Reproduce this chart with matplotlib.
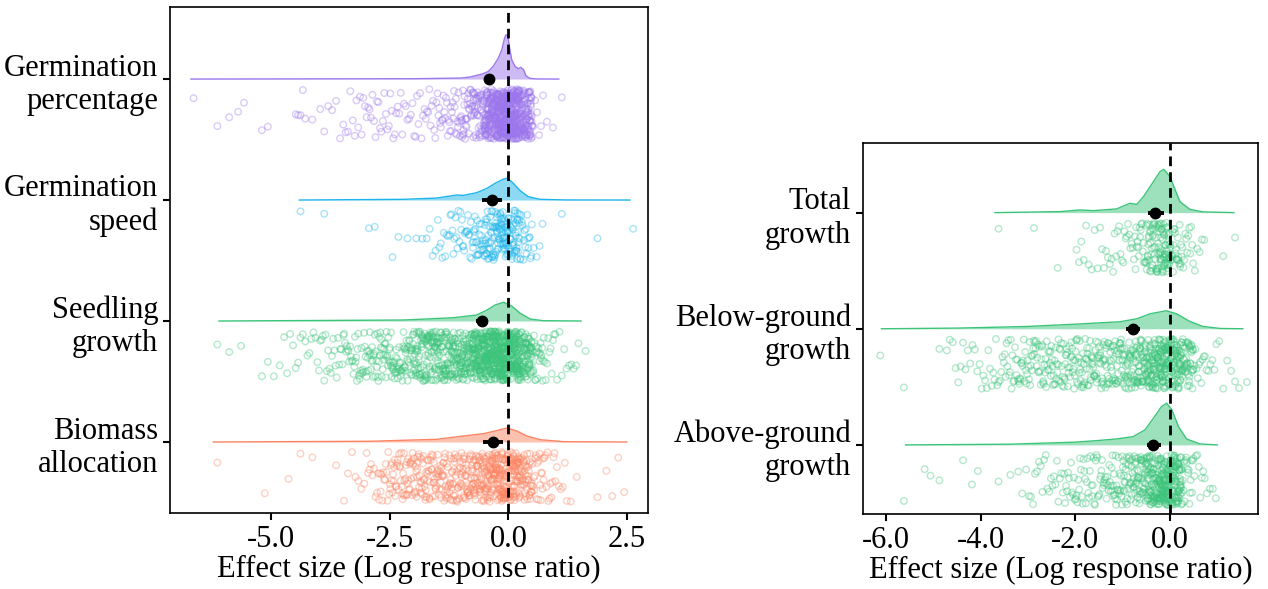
import numpy as np
import matplotlib.pyplot as plt

plt.rcParams['font.family'] = ['Liberation Serif', 'DejaVu Serif']
plt.rcParams['axes.unicode_minus'] = False

# ---- data ----
# bin width for the point clouds (counts per bin, bins given by left edge)
BIN_W = 0.25

# left panel: top -> bottom
left_names = ["Germination\npercentage", "Germination\nspeed", "Seedling\ngrowth", "Biomass\nallocation"]

gp_bins = [-6.75, -6.25, -6.0, -5.75, -5.25, -4.5, -4.25, -4.0, -3.75, -3.5, -3.25, -3.0, -2.75, -2.5,
           -2.25, -2.0, -1.75, -1.5, -1.25, -1.0, -0.75, -0.5, -0.25, 0.0, 0.25, 0.5, 0.75, 1.0]
gp_counts = [1, 1, 1, 2, 2, 5, 1, 3, 3, 5, 7, 8, 8, 8,
             7, 8, 10, 14, 18, 30, 45, 120, 180, 170, 100, 6, 2, 1]

gs_bins = [-4.5, -4.0, -3.0, -2.5, -2.25, -2.0, -1.75, -1.5, -1.25, -1.0, -0.75, -0.5, -0.25, 0.0,
           0.25, 0.5, 1.0, 1.75, 2.5]
gs_counts = [1, 1, 2, 2, 1, 2, 4, 8, 12, 16, 25, 40, 55, 45,
             18, 4, 1, 1, 1]

sg_bins = [-6.25, -6.0, -5.75, -5.25, -5.0, -4.75, -4.5, -4.25, -4.0, -3.75, -3.5, -3.25, -3.0, -2.75,
           -2.5, -2.25, -2.0, -1.75, -1.5, -1.25, -1.0, -0.75, -0.5, -0.25, 0.0, 0.25, 0.5, 0.75,
           1.0, 1.25, 1.5]
sg_counts = [1, 1, 1, 2, 2, 4, 5, 6, 9, 10, 14, 18, 22, 25,
             28, 32, 48, 55, 58, 62, 70, 110, 140, 150, 130, 75, 22, 10,
             5, 5, 1]

ba_bins = [-6.25, -5.25, -4.75, -4.5, -4.25, -3.75, -3.5, -3.25, -3.0, -2.75, -2.5, -2.25, -2.0, -1.75,
           -1.5, -1.25, -1.0, -0.75, -0.5, -0.25, 0.0, 0.25, 0.5, 0.75, 1.0, 1.25, 1.75, 2.0, 2.25]
ba_counts = [1, 1, 1, 1, 1, 1, 3, 4, 8, 14, 22, 26, 28, 30,
             32, 35, 40, 50, 65, 80, 70, 45, 20, 12, 6, 2, 1, 2, 2]

# relative density curves (x, density)
gp_dx = [-6.68, -2.0, -1.0, -0.81, -0.53, -0.42, -0.32, -0.21, -0.14, -0.08, -0.05, -0.01, 0.02, 0.07,
         0.14, 0.21, 0.26, 0.32, 0.37, 0.45, 0.6, 1.06]
gp_dy = [0, 0.007, 0.022, 0.044, 0.118, 0.171, 0.282, 0.467, 0.644, 0.911, 0.984, 0.949, 0.727, 0.429,
         0.282, 0.229, 0.26, 0.207, 0.073, 0.016, 0.002, 0]
gs_dx = [-4.4, -2.21, -1.51, -1.09, -0.95, -0.67, -0.45, -0.28, -0.1, -0.03, 0.07, 0.25, 0.42, 0.67, 1.2, 2.56]
gs_dy = [0, 0.016, 0.044, 0.111, 0.104, 0.162, 0.26, 0.371, 0.467, 0.482, 0.407, 0.207, 0.073, 0.016, 0.002, 0]
sg_dx = [-6.09, -2.21, -1.16, -0.67, -0.45, -0.28, -0.1, 0.07, 0.25, 0.46, 0.74, 1.53]
sg_dy = [0, 0.022, 0.073, 0.133, 0.244, 0.356, 0.416, 0.333, 0.171, 0.044, 0.007, 0]
ba_dx = [-6.21, -2.91, -1.51, -0.95, -0.53, -0.28, -0.03, 0.18, 0.39, 0.67, 1.16, 2.49]
ba_dy = [0, 0.016, 0.06, 0.133, 0.184, 0.244, 0.311, 0.244, 0.133, 0.051, 0.007, 0]

left_mean = [-0.41, -0.35, -0.55, -0.33]
left_lo = [-0.45, -0.56, -0.68, -0.53]
left_hi = [-0.37, -0.13, -0.42, -0.11]

# right panel: top -> bottom
right_names = ["Total\ngrowth", "Below-ground\ngrowth", "Above-ground\ngrowth"]

tg_bins = [-3.75, -3.0, -2.5, -2.0, -1.75, -1.5, -1.25, -1.0, -0.75, -0.5, -0.25, 0.0, 0.25, 0.5, 1.0, 1.25]
tg_counts = [1, 1, 1, 5, 4, 6, 8, 10, 18, 40, 60, 25, 12, 5, 1, 1]

bg_bins = [-6.25, -5.75, -5.0, -4.75, -4.5, -4.25, -4.0, -3.75, -3.5, -3.25, -3.0, -2.75, -2.5, -2.25,
           -2.0, -1.75, -1.5, -1.25, -1.0, -0.75, -0.5, -0.25, 0.0, 0.25, 0.5, 0.75, 1.0, 1.25, 1.5]
bg_counts = [1, 1, 1, 4, 5, 5, 7, 9, 14, 18, 20, 22, 22, 24,
             26, 28, 30, 32, 38, 50, 70, 85, 70, 45, 10, 6, 3, 3, 1]

ag_bins = [-5.75, -5.25, -5.0, -4.5, -4.25, -3.75, -3.5, -3.25, -3.0, -2.75, -2.5, -2.25, -2.0, -1.75,
           -1.5, -1.25, -1.0, -0.75, -0.5, -0.25, 0.0, 0.25, 0.5, 0.75]
ag_counts = [1, 2, 1, 1, 2, 1, 1, 3, 6, 7, 8, 12, 14, 16,
             18, 24, 32, 45, 75, 110, 85, 18, 8, 4]

tg_dx = [-3.7, -2.33, -1.9, -1.62, -1.13, -0.85, -0.7, -0.56, -0.35, -0.21, -0.13, 0.0, 0.11, 0.21, 0.42, 0.7, 1.35]
tg_dy = [0, 0.022, 0.06, 0.044, 0.082, 0.207, 0.184, 0.356, 0.689, 0.911, 0.962, 0.8, 0.504, 0.244, 0.073, 0.016, 0]
bg_dx = [-6.1, -4.44, -3.03, -1.97, -1.06, -0.7, -0.42, -0.08, 0.14, 0.42, 0.7, 1.06, 1.54]
bg_dy = [0, 0.016, 0.051, 0.104, 0.156, 0.222, 0.333, 0.4, 0.333, 0.162, 0.051, 0.007, 0]
ag_dx = [-5.59, -3.38, -2.04, -1.62, -1.13, -0.78, -0.53, -0.35, -0.18, -0.07, 0.04, 0.18, 0.35, 0.63, 1.0]
ag_dy = [0, 0.016, 0.06, 0.089, 0.133, 0.184, 0.333, 0.593, 0.851, 0.927, 0.778, 0.407, 0.133, 0.022, 0]

right_mean = [-0.32, -0.79, -0.35]
right_lo = [-0.47, -0.92, -0.48]
right_hi = [-0.13, -0.63, -0.18]

PURPLE = '#9C76EC'
BLUE = '#1CB5EB'
GREEN = '#3BC47A'
SALMON = '#FC8462'

FS = 22


def hash01(k, seed):
    # deterministic scatter for the vertical jitter
    v = np.sin(k * 12.9898 + seed * 78.233) * 43758.5453
    return v - np.floor(v)


def expand_bins(bins, counts):
    # spread each bin's points evenly inside the bin
    xs = []
    for lo, n in zip(bins, counts):
        for j in range(n):
            xs.append(lo + (j + 0.5) / n * BIN_W)
    return np.array(xs)


def raincloud(ax, ypos, bins, counts, dx, dy, mean, lo, hi, color, ppu, seed):
    # ppu = pixels per y unit of that axes
    x = expand_bins(bins, counts)
    k = np.arange(len(x), dtype=float)
    y = ypos - (10 + 50 * hash01(k, seed)) / ppu
    ax.scatter(x, y, s=22, facecolors='none', edgecolors=color, linewidths=1.0, alpha=0.38, zorder=2)

    top = ypos + np.array(dy) * 45 / ppu
    ax.fill_between(dx, ypos, top, color=color, alpha=0.5, lw=0, zorder=3)
    ax.plot(dx, top, color=color, lw=1.0, zorder=3)

    ax.plot([lo, hi], [ypos, ypos], color='black', lw=2.8, solid_capstyle='butt', zorder=6)
    ax.plot([mean], [ypos], 'o', color='black', ms=7.5, zorder=7)


def style_axes(ax):
    for sp in ax.spines.values():
        sp.set_linewidth(1.2)
        sp.set_color('black')
    ax.tick_params(axis='both', labelsize=FS, length=5, width=1.5, color='black')
    ax.axvline(0, color='black', lw=2.0, ls=(0, (3.5, 2.2)), zorder=5)
    ax.set_xlabel('Effect size (Log response ratio)', fontsize=FS, labelpad=1)


fig = plt.figure(figsize=(12.68, 5.89), dpi=100)
ax1 = fig.add_axes([0.1341, 0.129, 0.377, 0.859])
ax2 = fig.add_axes([0.6806, 0.1273, 0.3115, 0.630])

# left panel
left_data = [
    (gp_bins, gp_counts, gp_dx, gp_dy, PURPLE),
    (gs_bins, gs_counts, gs_dx, gs_dy, BLUE),
    (sg_bins, sg_counts, sg_dx, sg_dy, GREEN),
    (ba_bins, ba_counts, ba_dx, ba_dy, SALMON),
]
left_pos = [4, 3, 2, 1]
ppu_l = 121.0
for i, (b, c, dx, dy, col) in enumerate(left_data):
    raincloud(ax1, left_pos[i], b, c, dx, dy, left_mean[i], left_lo[i], left_hi[i], col, ppu_l, i + 1)
ax1.set_xlim(-7.12, 2.94)
ax1.set_ylim(0.413, 4.595)
ax1.set_xticks([-5.0, -2.5, 0.0, 2.5])
ax1.set_xticklabels(['%.1f' % v for v in [-5.0, -2.5, 0.0, 2.5]])
ax1.set_yticks(left_pos)
ax1.set_yticklabels(left_names, ha='right', multialignment='right')
style_axes(ax1)

# right panel
right_data = [
    (tg_bins, tg_counts, tg_dx, tg_dy, GREEN),
    (bg_bins, bg_counts, bg_dx, bg_dy, GREEN),
    (ag_bins, ag_counts, ag_dx, ag_dy, GREEN),
]
right_pos = [3, 2, 1]
ppu_r = 116.1
for i, (b, c, dx, dy, col) in enumerate(right_data):
    raincloud(ax2, right_pos[i], b, c, dx, dy, right_mean[i], right_lo[i], right_hi[i], col, ppu_r, i + 7)
ax2.set_xlim(-6.49, 1.86)
ax2.set_ylim(0.405, 3.60)
ax2.set_xticks([-6.0, -4.0, -2.0, 0.0])
ax2.set_xticklabels(['%.1f' % v for v in [-6.0, -4.0, -2.0, 0.0]])
ax2.set_yticks(right_pos)
ax2.set_yticklabels(right_names, ha='right', multialignment='right')
style_axes(ax2)

fig.savefig('out.png', dpi=100)
